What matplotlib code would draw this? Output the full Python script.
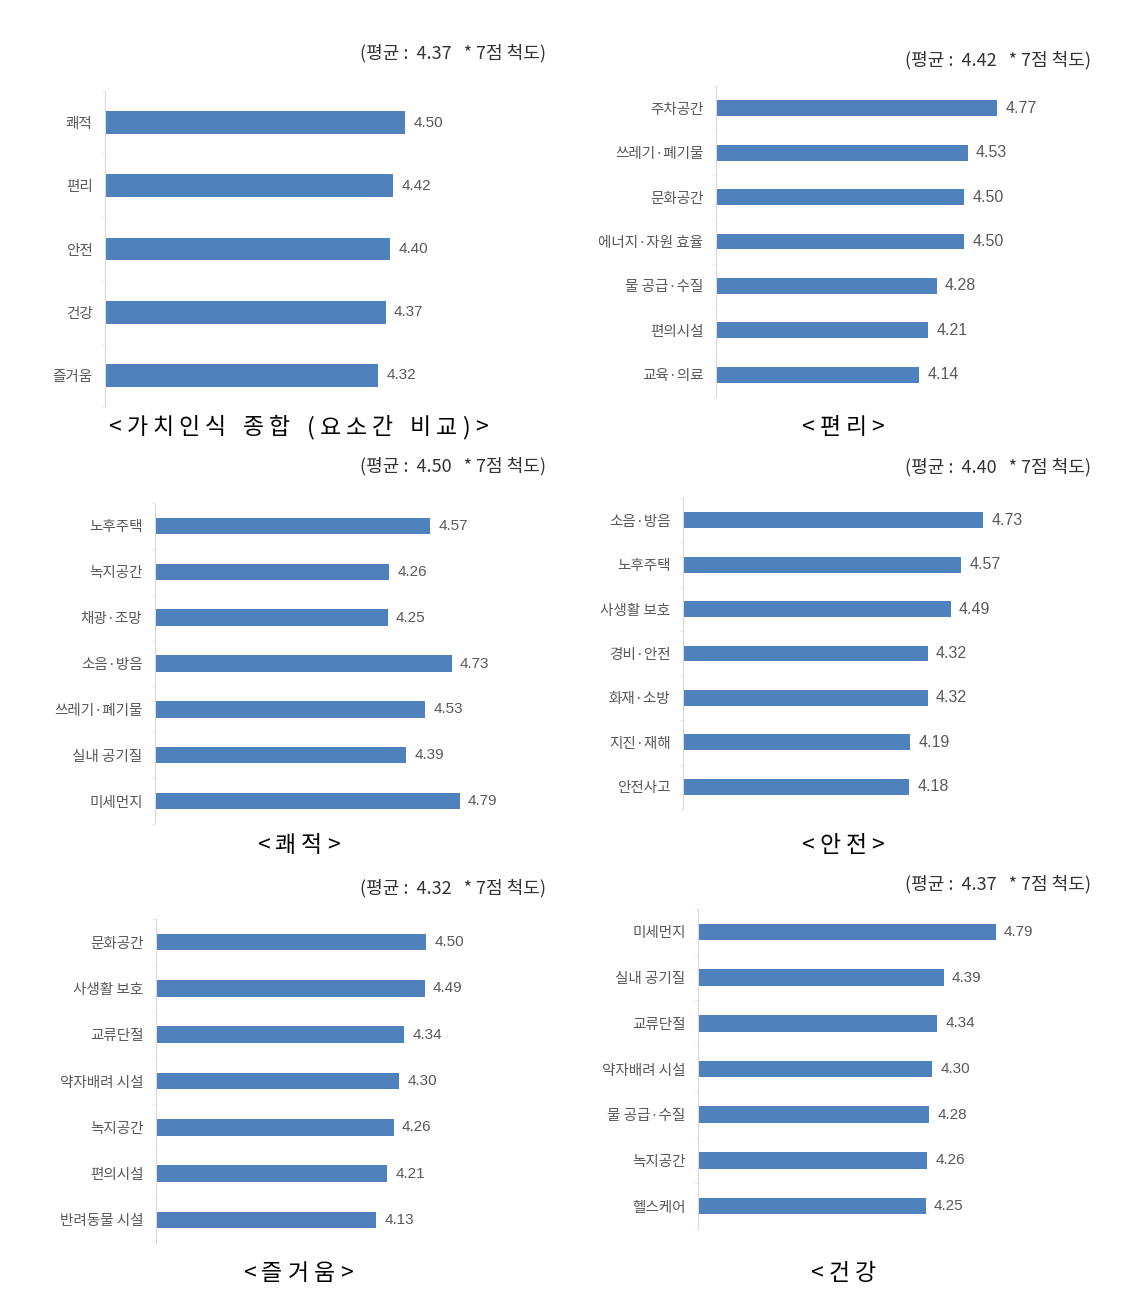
import matplotlib
matplotlib.use('Agg')
import matplotlib.pyplot as plt
from matplotlib.ticker import FixedLocator

plt.rcParams['font.family'] = ['Noto Sans CJK KR', 'DejaVu Sans']

# data
cats_total = ['쾌적', '편리', '안전', '건강', '즐거움']
vals_total = [4.50, 4.42, 4.40, 4.37, 4.32]

cats_conv = ['주차공간', '쓰레기·폐기물', '문화공간', '에너지·자원 효율', '물 공급·수질', '편의시설', '교육·의료']
vals_conv = [4.77, 4.53, 4.50, 4.50, 4.28, 4.21, 4.14]

cats_comf = ['노후주택', '녹지공간', '채광·조망', '소음·방음', '쓰레기·폐기물', '실내 공기질', '미세먼지']
vals_comf = [4.57, 4.26, 4.25, 4.73, 4.53, 4.39, 4.79]

cats_safe = ['소음·방음', '노후주택', '사생활 보호', '경비·안전', '화재·소방', '지진·재해', '안전사고']
vals_safe = [4.73, 4.57, 4.49, 4.32, 4.32, 4.19, 4.18]

cats_fun = ['문화공간', '사생활 보호', '교류단절', '약자배려 시설', '녹지공간', '편의시설', '반려동물 시설']
vals_fun = [4.50, 4.49, 4.34, 4.30, 4.26, 4.21, 4.13]

cats_health = ['미세먼지', '실내 공기질', '교류단절', '약자배려 시설', '물 공급·수질', '녹지공간', '헬스케어']
vals_health = [4.79, 4.39, 4.34, 4.30, 4.28, 4.26, 4.25]

means = [4.37, 4.42, 4.50, 4.40, 4.32, 4.37]
titles = ['<가치인식 종합 (요소간 비교)>', '<편리>', '<쾌적>', '<안전>', '<즐거움>', '<건강']

W, H = 1146, 1304
BLUE = '#4f81bd'
XMIN, XMAX = 2.5, 5.5

fig = plt.figure(figsize=(W / 100, H / 100), dpi=100)
renderer = fig.canvas.get_renderer()


def spaced_text(xc, yc, s, gap=5, **kw):
    # caption centered at pixel (xc, yc) with extra letter spacing
    widths = []
    for ch in s:
        t = fig.text(0, 0, ch if ch != ' ' else '\u3000', **kw)
        w = t.get_window_extent(renderer).width
        if ch == ' ':
            w *= 0.3
        widths.append(w)
        t.remove()
    total = sum(widths) + gap * (len(s) - 1)
    x = xc - total / 2
    for ch, w in zip(s, widths):
        if ch != ' ':
            fig.text(x / W, 1 - yc / H, ch, ha='left', va='center', **kw)
        x += w + gap


# panel layout in pixels: left, top, bottom, px per unit, bar height, note (x, y), title (x, y)
panels = [
    (cats_total, vals_total, 105, 91, 407, 150, 0.36, (546, 53), (298, 428), 11),
    (cats_conv, vals_conv, 716, 86, 397, 124, 0.36, (1091, 60), (843, 428), 11.5),
    (cats_comf, vals_comf, 155, 503, 824, 133, 0.36, (546, 466), (298, 846), 11),
    (cats_safe, vals_safe, 683, 498, 809, 134.5, 0.36, (1091, 467), (843, 846), 11.5),
    (cats_fun, vals_fun, 156, 919, 1243, 135, 0.36, (546, 888), (298, 1274), 11),
    (cats_health, vals_health, 698, 909, 1229, 130, 0.36, (1091, 884), (843, 1274), 11),
]

for i, (cats, vals, left, top, bottom, ppu, bh, note, tpos, vfs) in enumerate(panels):
    width = (XMAX - XMIN) * ppu
    ax = fig.add_axes([left / W, 1 - bottom / H, width / W, (bottom - top) / H])
    y = list(range(len(cats)))
    ax.barh(y, [v - XMIN for v in vals], left=XMIN, height=bh, color=BLUE, edgecolor='none')
    ax.set_xlim(XMIN, XMAX)
    ax.set_ylim(len(cats) - 0.5, -0.5)
    ax.set_yticks(y)
    ax.set_yticklabels(cats, fontsize=10.5, color='#595959')
    ax.tick_params(axis='y', which='major', length=0, pad=9)
    ax.yaxis.set_minor_locator(FixedLocator([k - 0.5 for k in range(len(cats) + 1)]))
    ax.tick_params(axis='y', which='minor', length=3, color='#ececec')
    ax.set_xticks([])
    for s in ['top', 'right', 'bottom']:
        ax.spines[s].set_visible(False)
    ax.spines['left'].set_color('#d9d9d9')
    for yy, v in zip(y, vals):
        ax.annotate(f'{v:.2f}', (v, yy), xytext=(6, 0), textcoords='offset points',
                    va='center', ha='left', fontsize=vfs, color='#595959',
                    family=['Liberation Sans', 'DejaVu Sans'])
    fig.text(note[0] / W, 1 - note[1] / H, f'(평균 :  {means[i]:.2f}   * 7점 척도)',
             ha='right', va='center', fontsize=13, color='#333333')
    spaced_text(tpos[0], tpos[1], titles[i], gap=5, fontsize=16.5, color='black')

fig.savefig('out.png', dpi=100, facecolor='white')
